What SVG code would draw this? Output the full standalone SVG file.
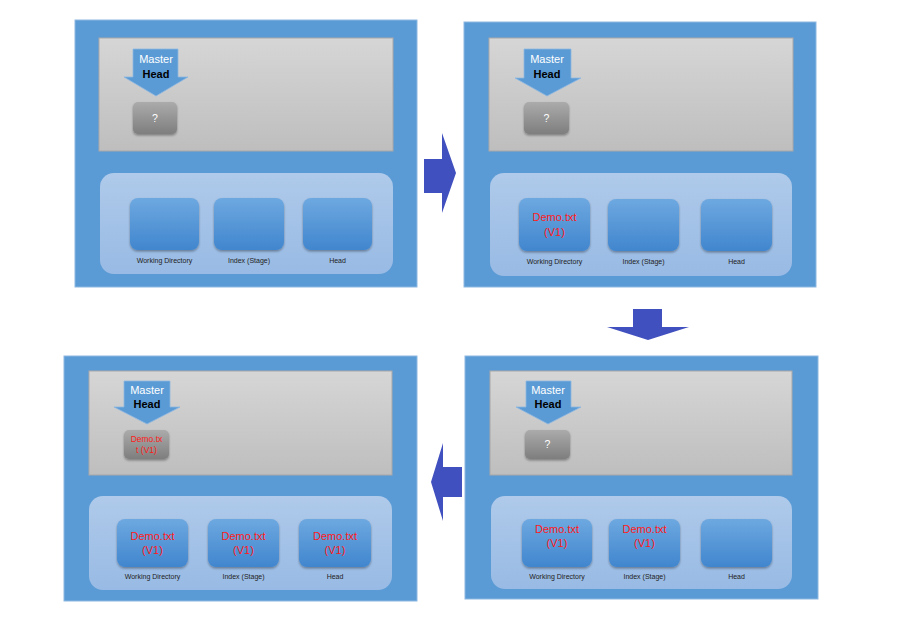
<svg xmlns="http://www.w3.org/2000/svg" width="911" height="630" viewBox="0 0 911 630">
<defs>
<linearGradient id="gGray" x1="0" y1="0" x2="0" y2="1"><stop offset="0" stop-color="#D6D6D6"/><stop offset="1" stop-color="#BEBEBE"/></linearGradient>
<linearGradient id="gLight" x1="0" y1="0" x2="0" y2="1"><stop offset="0" stop-color="#AFCAEA"/><stop offset="1" stop-color="#98BAE4"/></linearGradient>
<linearGradient id="gBox" x1="0" y1="0" x2="0" y2="1"><stop offset="0" stop-color="#6DA8E0"/><stop offset="1" stop-color="#4186CE"/></linearGradient>
<linearGradient id="gQ" x1="0" y1="0" x2="0" y2="1"><stop offset="0" stop-color="#ABABAB"/><stop offset="1" stop-color="#7E7E7E"/></linearGradient>
<filter id="sh" x="-20%" y="-20%" width="140%" height="150%"><feDropShadow dx="0" dy="1.5" stdDeviation="1.2" flood-color="#000" flood-opacity="0.35"/></filter>
</defs>
<style>
.outer{fill:#5B9BD5;stroke:#8DB8E2;stroke-width:1}
.gray{fill:url(#gGray);stroke:#A8A8A8;stroke-width:1}
.light{fill:url(#gLight)}
.box{fill:url(#gBox);filter:url(#sh)}
.q{fill:url(#gQ);filter:url(#sh)}
.marr{fill:#5B9BD5;stroke:#8DB8E2;stroke-width:0.8}
.big{fill:#4150BF}
text{font-family:"Liberation Sans",Arial,sans-serif;text-anchor:middle}
.m{font-size:11px;fill:#FFFFFF}
.h{font-size:11px;fill:#000;font-weight:bold}
.qt{font-size:10.5px;fill:#FFFFFF}
.d{font-size:11px;fill:#FF1A1A}
.ds{font-size:8.5px;fill:#FF1A1A}
.lbl{font-size:7px;fill:#222}
</style>

<g id="panel1">
<rect class="outer" x="75" y="20" width="342" height="267"/>
<rect class="gray" x="99" y="38" width="294" height="113"/>
<rect class="light" x="100" y="173" width="293" height="101" rx="14"/>
<g id="p1-master"><polygon class="marr" points="133,49 178,49 178,77 188,77 156,96 124,77 133,77"/><text class="m" x="156" y="63">Master</text><text class="h" x="156" y="78">Head</text></g>
<g id="p1-commit"><rect class="q" x="133" y="102" width="44" height="32" rx="5"/><text class="qt" x="155" y="122">?</text></g>
<g id="p1-wd"><rect class="box" x="130" y="198" width="69" height="52" rx="8"/><text class="lbl" x="164.5" y="263">Working Directory</text></g>
<g id="p1-idx"><rect class="box" x="214" y="198" width="70" height="52" rx="8"/><text class="lbl" x="249" y="263">Index (Stage)</text></g>
<g id="p1-head"><rect class="box" x="303" y="198" width="69" height="52" rx="8"/><text class="lbl" x="337.5" y="263">Head</text></g>
</g>

<g id="panel2">
<rect class="outer" x="464" y="22" width="352" height="265"/>
<rect class="gray" x="489" y="38" width="304" height="113"/>
<rect class="light" x="490" y="173" width="302" height="103" rx="14"/>
<g id="p2-master"><polygon class="marr" points="524,49 571,49 571,78 581,78 547,96 515,78 524,78"/><text class="m" x="547" y="63">Master</text><text class="h" x="547" y="78">Head</text></g>
<g id="p2-commit"><rect class="q" x="524" y="102" width="45" height="32" rx="5"/><text class="qt" x="546.5" y="122">?</text></g>
<g id="p2-wd"><rect class="box" x="519" y="198" width="71" height="53" rx="8"/><text class="d" x="554.5" y="221">Demo.txt</text><text class="d" x="554.5" y="236">(V1)</text><text class="lbl" x="554.5" y="264">Working Directory</text></g>
<g id="p2-idx"><rect class="box" x="608" y="199" width="71" height="52" rx="8"/><text class="lbl" x="643.5" y="264">Index (Stage)</text></g>
<g id="p2-head"><rect class="box" x="701" y="199" width="71" height="52" rx="8"/><text class="lbl" x="736.5" y="264">Head</text></g>
</g>

<g id="panel4">
<rect class="outer" x="465" y="356" width="353" height="243"/>
<rect class="gray" x="490" y="371" width="302" height="104"/>
<rect class="light" x="491" y="496" width="301" height="93" rx="14"/>
<g id="p4-master"><polygon class="marr" points="526,381 571,381 571,407 581,407 548,424 516,407 526,407"/><text class="m" x="548" y="394">Master</text><text class="h" x="548" y="408">Head</text></g>
<g id="p4-commit"><rect class="q" x="525" y="430" width="45" height="29" rx="5"/><text class="qt" x="547.5" y="448">?</text></g>
<g id="p4-wd"><rect class="box" x="522" y="519" width="70" height="48" rx="8"/><text class="d" x="557" y="533">Demo.txt</text><text class="d" x="557" y="547">(V1)</text><text class="lbl" x="557" y="579">Working Directory</text></g>
<g id="p4-idx"><rect class="box" x="609" y="519" width="71" height="48" rx="8"/><text class="d" x="644.5" y="533">Demo.txt</text><text class="d" x="644.5" y="547">(V1)</text><text class="lbl" x="644.5" y="579">Index (Stage)</text></g>
<g id="p4-head"><rect class="box" x="701" y="519" width="71" height="48" rx="8"/><text class="lbl" x="736.5" y="579">Head</text></g>
</g>

<g id="panel3">
<rect class="outer" x="64" y="356" width="353" height="245"/>
<rect class="gray" x="89" y="371" width="303" height="104"/>
<rect class="light" x="89" y="496" width="303" height="94" rx="14"/>
<g id="p3-master"><polygon class="marr" points="124,381 170,381 170,407 180,407 147,424 114,407 124,407"/><text class="m" x="147" y="394">Master</text><text class="h" x="147" y="408">Head</text></g>
<g id="p3-commit"><rect class="q" x="124" y="430" width="45" height="29" rx="5"/><text class="ds" x="146.5" y="442">Demo.tx</text><text class="ds" x="146.5" y="453">t (V1)</text></g>
<g id="p3-wd"><rect class="box" x="117" y="519" width="71" height="48" rx="8"/><text class="d" x="152.5" y="540">Demo.txt</text><text class="d" x="152.5" y="554">(V1)</text><text class="lbl" x="152.5" y="579">Working Directory</text></g>
<g id="p3-idx"><rect class="box" x="208" y="519" width="71" height="48" rx="8"/><text class="d" x="243.5" y="540">Demo.txt</text><text class="d" x="243.5" y="554">(V1)</text><text class="lbl" x="243.5" y="579">Index (Stage)</text></g>
<g id="p3-head"><rect class="box" x="299" y="519" width="72" height="48" rx="8"/><text class="d" x="335" y="540">Demo.txt</text><text class="d" x="335" y="554">(V1)</text><text class="lbl" x="335" y="579">Head</text></g>
</g>

<g id="connectors">
<polygon class="big" points="424,159 442,159 442,133 456,173 442,213 442,193 424,193"/>
<polygon class="big" points="633,309 662,309 662,327 689,327 648,340 607,327 633,327"/>
<polygon class="big" points="462,467 443,467 443,443 431,482 443,521 443,497 462,497"/>
</g>
</svg>
